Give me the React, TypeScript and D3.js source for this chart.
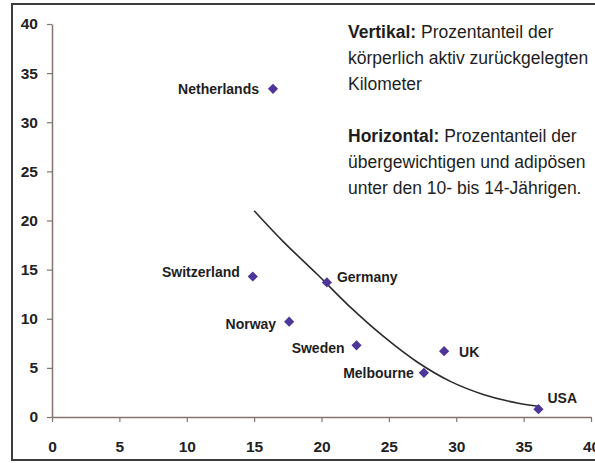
import React, { useEffect, useRef } from 'react';
import * as d3 from 'd3';

// values
const places = ['Netherlands', 'Switzerland', 'Germany', 'Norway', 'Sweden', 'UK', 'Melbourne', 'USA'];
const overweightPct = [16.4, 14.9, 20.4, 17.6, 22.6, 29.1, 27.6, 36.1];
const activeKmPct = [33.4, 14.3, 13.7, 9.7, 7.3, 6.7, 4.5, 0.8];

// trend line
const trendX = [15.0, 17.2, 19.7, 22.2, 24.6, 27.1, 29.6, 32.0, 34.6, 36.1];
const trendY = [21.0, 17.8, 14.5, 11.1, 8.2, 5.6, 3.6, 2.3, 1.4, 1.1];

const xTicks = [0, 5, 10, 15, 20, 25, 30, 35, 40];
const yTicks = [0, 5, 10, 15, 20, 25, 30, 35, 40];

const noteLines = [
  { bold: 'Vertikal:', text: ' Prozentanteil der' },
  { bold: '', text: 'körperlich aktiv zurückgelegten' },
  { bold: '', text: 'Kilometer' },
  null,
  { bold: 'Horizontal:', text: ' Prozentanteil der' },
  { bold: '', text: 'übergewichtigen und adipösen' },
  { bold: '', text: 'unter den 10- bis 14-Jährigen.' },
];

// where each label sits relative to its marker
const labelPlacement: Record<string, { anchor: string; dx: number; dy: number }> = {
  Netherlands: { anchor: 'end', dx: -14, dy: 0 },
  Switzerland: { anchor: 'end', dx: -13, dy: -5 },
  Germany: { anchor: 'start', dx: 10, dy: -5 },
  Norway: { anchor: 'end', dx: -13, dy: 2 },
  Sweden: { anchor: 'end', dx: -12, dy: 3 },
  UK: { anchor: 'start', dx: 15, dy: 1 },
  Melbourne: { anchor: 'end', dx: -10, dy: 0 },
  USA: { anchor: 'start', dx: 9, dy: -11 },
};

const W = 595;
const H = 463;
const FONT = '"Liberation Sans", Arial, sans-serif';
const AXIS_COLOR = '#857472';
const MARK_COLOR = '#4d3599';

const x = d3.scaleLinear().domain([0, 40]).range([52, 591]);
const y = d3.scaleLinear().domain([0, 40]).range([417, 24]);

export default function App() {
  const xAxisRef = useRef<SVGGElement>(null);
  const yAxisRef = useRef<SVGGElement>(null);

  useEffect(() => {
    const xa = d3.select(xAxisRef.current);
    xa.call(d3.axisBottom(x).tickValues(xTicks).tickSize(5).tickSizeOuter(0).tickPadding(19).tickFormat(d3.format('d')) as any);
    const ya = d3.select(yAxisRef.current);
    ya.call(d3.axisLeft(y).tickValues(yTicks).tickSize(5).tickSizeOuter(0).tickPadding(9).tickFormat(d3.format('d')) as any);
    [xa, ya].forEach((g) => {
      g.selectAll('.domain').attr('stroke', AXIS_COLOR).attr('stroke-width', 1.5);
      g.selectAll('.tick line').attr('stroke', AXIS_COLOR).attr('stroke-width', 1.2);
      g.selectAll('.tick text')
        .attr('fill', '#222')
        .style('font-family', FONT)
        .style('font-size', '15.5px')
        .style('font-weight', 'bold');
    });
  }, []);

  const trend = d3.line<number>()
    .x((d, i) => x(trendX[i]))
    .y((d) => y(d))
    .curve(d3.curveCatmullRom.alpha(0.5));

  // square turned 45deg, same width and height like the reference markers
  const diamond = d3.symbol().type(d3.symbolSquare).size(52)();

  return (
    <svg width={W} height={H} style={{ position: 'absolute', left: 0, top: 0, background: '#fff', overflow: 'hidden' }}>
      <rect x={12} y={4} width={W} height={456} fill="#fff" stroke="#3c3c3c" strokeWidth={2} />
      <g ref={xAxisRef} transform={`translate(0,${y(0)})`} />
      <g ref={yAxisRef} transform={`translate(${x(0)},0)`} />

      <path d={trend(trendY) || ''} fill="none" stroke="#2b2b2b" strokeWidth={1.6} />

      {places.map((p, i) => {
        const lp = labelPlacement[p];
        return (
          <g key={p} transform={`translate(${x(overweightPct[i])},${y(activeKmPct[i])})`}>
            <path d={diamond || ''} fill={MARK_COLOR} transform="rotate(45)" />
            <text
              x={lp.dx}
              y={lp.dy}
              dy="0.36em"
              textAnchor={lp.anchor}
              fontFamily={FONT}
              fontSize={14}
              fontWeight="bold"
              fill="#1e1e1e"
            >
              {p}
            </text>
          </g>
        );
      })}

      <g fontFamily={FONT} fontSize={17.5} fill="#1e1e1e">
        {noteLines.map((l, i) =>
          l ? (
            <text key={i} x={348} y={38 + i * 26}>
              {l.bold && <tspan fontWeight="bold">{l.bold}</tspan>}
              {l.text}
            </text>
          ) : null
        )}
      </g>
    </svg>
  );
}
